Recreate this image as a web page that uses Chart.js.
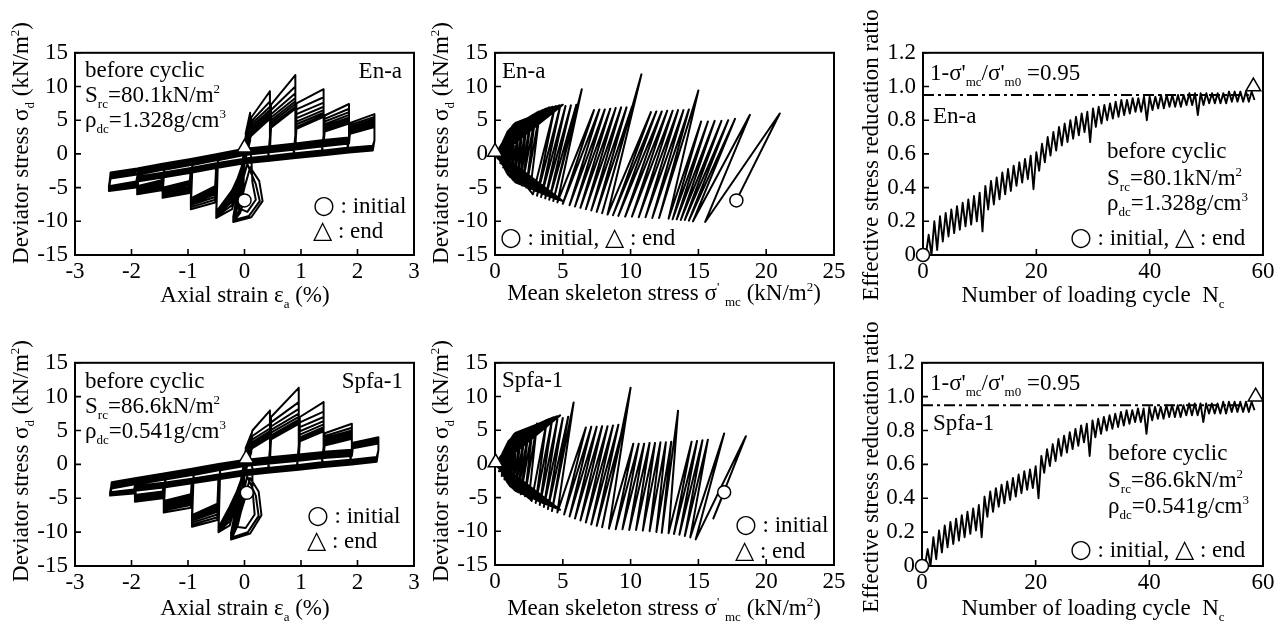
<!DOCTYPE html>
<html>
<head>
<meta charset="utf-8">
<script src="https://cdn.jsdelivr.net/npm/chart.js@4.4.1/dist/chart.umd.min.js"></script>
<style>
  body { margin: 0; width: 1279px; height: 626px; overflow: hidden; background: #fff; position: relative;
         font-family: "Liberation Serif", "Times New Roman", serif; color: #000; }
  canvas { position: absolute; }
  .t, .xt, .yt { position: absolute; font-size: 23px; line-height: 23px; white-space: nowrap; }
  .xt { transform: translateX(-50%); }
  .yt { transform: translate(-50%, -50%) rotate(-90deg); }
  sub { font-size: 13px; vertical-align: baseline; position: relative; top: 6px; }
  sup { font-size: 13px; vertical-align: baseline; position: relative; top: -9px; }
  .sym { font-family: "DejaVu Sans", sans-serif; font-size: 25px; line-height: 0; }
</style>
</head>
<body>

<canvas id="c1"></canvas><canvas id="c2"></canvas><canvas id="c3"></canvas>
<canvas id="c4"></canvas><canvas id="c5"></canvas><canvas id="c6"></canvas>

<!-- axis titles -->
<div class="yt" style="left:22px;top:143px">Deviator stress σ<sub>d</sub> (kN/m<sup>2</sup>)</div>
<div class="yt" style="left:442px;top:143px">Deviator stress σ<sub>d</sub> (kN/m<sup>2</sup>)</div>
<div class="yt" style="left:870px;top:155px">Effective stress reducation ratio</div>
<div class="yt" style="left:22px;top:461px">Deviator stress σ<sub>d</sub> (kN/m<sup>2</sup>)</div>
<div class="yt" style="left:442px;top:461px">Deviator stress σ<sub>d</sub> (kN/m<sup>2</sup>)</div>
<div class="yt" style="left:870px;top:467px">Effective stress reducation ratio</div>

<div class="xt" style="left:245px;top:283px">Axial strain ε<sub>a</sub> (%)</div>
<div class="xt" style="left:664px;top:281px">Mean skeleton stress σ<sup>'</sup> <sub>mc</sub> (kN/m<sup>2</sup>)</div>
<div class="xt" style="left:1093px;top:283px">Number of loading cycle &nbsp;N<sub>c</sub></div>
<div class="xt" style="left:245px;top:596px">Axial strain ε<sub>a</sub> (%)</div>
<div class="xt" style="left:664px;top:596px">Mean skeleton stress σ<sup>'</sup> <sub>mc</sub> (kN/m<sup>2</sup>)</div>
<div class="xt" style="left:1093px;top:596px">Number of loading cycle &nbsp;N<sub>c</sub></div>

<!-- panel 1 -->
<div class="t" style="left:85px;top:58px">before cyclic</div>
<div class="t" style="left:85px;top:83px">S<sub>rc</sub>=80.1kN/m<sup>2</sup></div>
<div class="t" style="left:85px;top:108px">ρ<sub>dc</sub>=1.328g/cm<sup>3</sup></div>
<div class="t" style="right:877px;top:59px">En-a</div>
<div class="t" style="left:313px;top:194px"><span class="sym">○</span> : initial</div>
<div class="t" style="left:313px;top:219px"><span class="sym">△</span> : end</div>

<!-- panel 2 -->
<div class="t" style="left:502px;top:59px">En-a</div>
<div class="t" style="left:500px;top:226px"><span class="sym">○</span> : initial, <span class="sym">△</span> : end</div>

<!-- panel 3 -->
<div class="t" style="left:930px;top:61px">1-σ'<sub>mc</sub>/σ'<sub>m0</sub> =0.95</div>
<div class="t" style="left:933px;top:104px">En-a</div>
<div class="t" style="left:1107px;top:139px">before cyclic</div>
<div class="t" style="left:1107px;top:166px">S<sub>rc</sub>=80.1kN/m<sup>2</sup></div>
<div class="t" style="left:1107px;top:191px">ρ<sub>dc</sub>=1.328g/cm<sup>3</sup></div>
<div class="t" style="left:1070px;top:226px"><span class="sym">○</span> : initial, <span class="sym">△</span> : end</div>

<!-- panel 4 -->
<div class="t" style="left:85px;top:369px">before cyclic</div>
<div class="t" style="left:85px;top:394px">S<sub>rc</sub>=86.6kN/m<sup>2</sup></div>
<div class="t" style="left:85px;top:419px">ρ<sub>dc</sub>=0.541g/cm<sup>3</sup></div>
<div class="t" style="right:876px;top:369px">Spfa-1</div>
<div class="t" style="left:307px;top:504px"><span class="sym">○</span> : initial</div>
<div class="t" style="left:307px;top:529px"><span class="sym">△</span> : end</div>

<!-- panel 5 -->
<div class="t" style="left:502px;top:368px">Spfa-1</div>
<div class="t" style="left:735px;top:513px"><span class="sym">○</span> : initial</div>
<div class="t" style="left:735px;top:539px"><span class="sym">△</span> : end</div>

<!-- panel 6 -->
<div class="t" style="left:930px;top:371px">1-σ'<sub>mc</sub>/σ'<sub>m0</sub> =0.95</div>
<div class="t" style="left:933px;top:411px">Spfa-1</div>
<div class="t" style="left:1108px;top:441px">before cyclic</div>
<div class="t" style="left:1108px;top:468px">S<sub>rc</sub>=86.6kN/m<sup>2</sup></div>
<div class="t" style="left:1108px;top:494px">ρ<sub>dc</sub>=0.541g/cm<sup>3</sup></div>
<div class="t" style="left:1070px;top:538px"><span class="sym">○</span> : initial, <span class="sym">△</span> : end</div>

<script>
// ==============================
// DATA — En-a, stress-strain (axial strain %, deviator stress kN/m2)
// six strain stages, eight cycles each
// ==============================
const enaCompStrain = [0.1, 0.45, 0.9, 1.4, 1.85, 2.3];
const enaExtStrain = [-0.2, -0.5, -0.95, -1.45, -1.9, -2.4];
const enaPeaks = [
  [6.1, 5.7, 5.4, 5.1, 4.9, 4.7, 4.5, 4.3],
  [9.3, 7.8, 7.0, 6.5, 6.1, 5.8, 5.5, 5.2],
  [11.7, 10.0, 9.0, 8.3, 7.8, 7.4, 7.0, 6.7],
  [9.6, 8.4, 7.6, 7.0, 6.5, 6.1, 5.8, 5.5],
  [7.4, 6.7, 6.2, 5.8, 5.4, 5.1, 4.8, 4.5],
  [5.9, 5.5, 5.2, 4.9, 4.6, 4.4, 4.2, 4.0]
];
const enaPeakStart = [
  [3.0, 2.6, 2.3, 2.0, 1.8, 1.6, 1.4, 1.2],
  [5.4, 4.8, 4.4, 4.0, 3.6, 3.3, 3.0, 2.7],
  [7.3, 6.5, 5.9, 5.4, 5.0, 4.6, 4.2, 3.9],
  [7.5, 6.6, 5.9, 5.3, 4.8, 4.4, 4.0, 3.7],
  [5.7, 5.2, 4.8, 4.4, 4.1, 3.8, 3.5, 3.3],
  [4.6, 4.3, 4.0, 3.8, 3.6, 3.4, 3.2, 3.0]
];
const enaTroughs = [
  [-10.1, -9.9, -9.8, -9.7, -9.6, -9.5, -9.5, -9.4],
  [-9.5, -9.3, -9.1, -9.0, -8.9, -8.8, -8.7, -8.6],
  [-8.2, -7.9, -7.6, -7.4, -7.2, -7.0, -6.8, -6.6],
  [-6.5, -6.2, -6.0, -5.8, -5.6, -5.4, -5.2, -5.0],
  [-6.0, -5.8, -5.6, -5.4, -5.2, -5.0, -4.9, -4.8],
  [-5.5, -5.4, -5.3, -5.2, -5.1, -5.0, -4.9, -4.8]
];
const enaTroughStart = [
  [-5.0, -4.5, -4.0, -3.6, -3.2, -2.9, -2.6, -2.3],
  [-8.2, -7.6, -7.1, -6.7, -6.3, -6.0, -5.7, -5.4],
  [-7.2, -6.8, -6.4, -6.0, -5.7, -5.4, -5.1, -4.8],
  [-5.8, -5.5, -5.2, -4.9, -4.6, -4.4, -4.2, -4.0],
  [-5.4, -5.1, -4.9, -4.7, -4.5, -4.3, -4.1, -3.9],
  [-5.0, -4.8, -4.6, -4.5, -4.4, -4.3, -4.2, -4.1]
];
const enaDropLevel = [2.0, 2.5, 2.8, 2.7, 2.6, 2.0];
// near-zero stress branches: loading (upper) and unloading (lower) band
const enaBandStrain = [-2.4, -1.9, -1.45, -0.95, -0.5, 0, 0.45, 0.9, 1.4, 1.85, 2.3];
const enaLoadBand = [-3.3, -2.7, -2.0, -1.3, -0.6, 0.2, 0.6, 1.0, 1.5, 1.9, 2.3];
const enaUnloadBand = [-4.0, -3.5, -2.9, -2.2, -1.5, -0.8, -0.4, 0.0, 0.4, 0.8, 1.1];
// first small cycles around the initial state
const enaStartLoop = [
  [0.0,-6.9],[-0.08,-8.8],[-0.2,-10.1],[0.12,-9.4],[0.32,-7.0],[0.26,-4.0],[0.1,-2.0],[0.0,-5.0],
  [-0.1,-8.5],[-0.18,-9.8],[0.08,-9.2],[0.27,-7.0],[0.2,-4.5],[0.05,-1.5],[-0.05,-4.5],[-0.12,-8.0],
  [0.05,-8.6],[0.2,-6.8],[0.14,-4.2],[0.12,-0.5]
];
const enaEndLoop = [[-2.37,-3.3],[-1.45,-1.9],[-0.5,-0.5],[0.0,0.9]];
const enaStartSS = [0.0, -6.9];
const enaEndSS = [0.0, 0.9];

// cycle-to-cycle spread of the band branches
const loadOffset = [0, 0.35, -0.2, 0.55, 0.15, -0.35, 0.45, 0.25];
const unloadOffset = [0, -0.3, -0.55, -0.15, -0.4, 0.1, -0.25, -0.6];

// En-a, effective stress path (p'mc, q)
const enaStartPQ = [17.8, -6.9];
const enaEndPQ = [0.0, 0.3];
const enaPath = [
  [17.8,-6.9],[21.0,6.0],[15.5,-10.1],[18.8,5.8],[14.6,-10.0],[17.7,5.2],[14.3,-9.9],[17.2,5.0],[14.0,-9.8],
  [16.7,4.9],[13.7,-9.8],[16.2,4.9],[13.4,-9.7],[15.7,4.8],[13.1,-9.7],[15.2,4.8],[12.8,-9.6],
  [15.0,9.4],[12.1,-9.5],[14.3,6.6],[11.6,-9.5],[13.9,6.5],[11.1,-9.4],[13.5,6.5],[10.6,-9.4],
  [13.1,6.4],[10.1,-9.3],[12.7,6.4],[9.6,-9.3],[12.3,6.3],[9.1,-9.2],[11.9,6.3],[8.7,-9.1],[11.5,6.2],[8.3,-9.0],
  [10.8,11.8],[7.9,-8.8],[10.1,7.0],[7.5,-8.6],[9.7,6.9],[7.1,-8.4],[9.3,6.9],[6.7,-8.2],
  [8.9,6.8],[6.3,-8.0],[8.5,6.7],[5.9,-7.8],[8.1,6.6],[5.5,-7.6],[7.7,6.6],[5.0,-7.4],[7.3,6.5],[4.6,-7.2],
  [6.4,9.6],[4.3,-7.0],[6.0,7.3],[4.0,-6.8],[5.6,7.2],[3.7,-6.6],[5.2,7.1],[3.4,-6.4],[4.8,7.0],[3.1,-6.2],[4.4,6.9],[2.8,-6.0],
  [0.4,0.1],[1.5,4.6],[5.0,7.3],[0.4,-0.1],[1.5,-4.2],[5.0,-7.0],[0.35,0.1],[1.4,4.4],[4.5,7.1],[0.35,-0.1],[1.4,-4.0],[4.5,-6.7],
  [0.3,0.1],[1.3,4.2],[4.0,6.9],[0.3,-0.1],[1.3,-3.8],[4.0,-6.3],[0.3,0.1],[1.2,3.9],[3.5,6.5],[0.3,-0.1],[1.2,-3.5],[3.5,-5.9],
  [0.25,0.1],[1.0,3.5],[3.0,6.0],[0.25,-0.1],[1.0,-3.2],[3.0,-5.5],[0.2,0.1],[0.9,3.2],[2.6,5.5],[0.2,-0.1],[0.9,-2.9],[2.6,-5.0],
  [0.2,0.1],[2.2,5.0],[0.15,-0.1],[2.2,-4.6],[0.15,0.1],[1.8,4.4],[0.1,-0.1],[1.8,-4.1],[0.1,0.1],[1.5,3.8],[0.1,-0.1],[1.5,-3.6],
  [0.1,0.1],[1.2,3.2],[0.05,-0.1],[1.2,-3.1],[0.05,0.1],[0.9,2.6],[0.05,0.0],[0.9,-2.5],[0.05,0.0],[0.6,1.8],
  [0.38,0.0],[1.45,4.5],[4.75,7.2],[0.38,0.0],[1.45,-4.1],[4.75,-6.85],[0.33,0.0],[1.35,4.3],[4.25,7.0],[0.33,0.0],[1.35,-3.9],[4.25,-6.5],
  [0.3,0.0],[1.25,4.0],[3.75,6.7],[0.3,0.0],[1.25,-3.6],[3.75,-6.1],[0.27,0.0],[1.1,3.7],[3.25,6.3],[0.27,0.0],[1.1,-3.4],[3.25,-5.7],
  [0.22,0.0],[0.95,3.4],[2.8,5.8],[0.22,0.0],[0.95,-3.0],[2.8,-5.25],[0.2,0.0],[2.4,5.3],[0.18,0.0],[2.4,-4.8],
  [0.15,0.0],[2.0,4.7],[0.12,0.0],[2.0,-4.35],[0.1,0.0],[1.65,4.1],[0.1,0.0],[1.65,-3.85],
  [0.08,0.0],[1.35,3.5],[0.08,0.0],[1.35,-3.35],[0.05,0.0],[1.05,2.9],[0.05,0.0],[1.05,-2.8],
  [0.03,0.0],[0.75,2.2],[0.03,0.0],[0.75,-2.2],
  [2.6,-5.3],[3.3,6.2],[2.3,-5.0],[3.0,5.9],[2.0,-4.7],[2.7,5.6],[1.8,-4.4],[2.4,5.2],[1.6,-4.1],[2.1,4.8],
  [1.4,-3.7],[1.8,4.3],[1.2,-3.3],[1.5,3.8],[1.0,-2.9],[1.25,3.3],[0.8,-2.5],[1.0,2.8],[0.6,-2.0],[0.75,2.2],
  [0.4,-1.4],[0.5,1.5],[0.2,-0.7],[0.0,0.3]
];

// En-a, reduction ratio per loading cycle 0..58 (upper value and dip of each cycle)
const enaRatioHigh = [
  0.02,0.12,0.2,0.23,0.25,0.27,0.29,0.31,0.33,0.35,0.37,
  0.41,0.44,0.46,0.49,0.51,0.53,0.55,0.57,0.59,0.61,
  0.66,0.7,0.73,0.76,0.78,0.8,0.82,0.84,0.85,0.87,
  0.88,0.89,0.9,0.91,0.92,0.92,0.93,0.93,0.94,0.94,
  0.94,0.95,0.95,0.95,0.95,0.95,0.96,0.96,0.96,0.96,
  0.96,0.96,0.96,0.97,0.97,0.97,0.97,0.97
];
const enaRatioLow = [
  0.0,0.0,0.03,0.08,0.11,0.13,0.15,0.17,0.18,0.2,0.14,
  0.27,0.3,0.33,0.36,0.38,0.41,0.43,0.45,0.39,0.5,
  0.55,0.59,0.62,0.65,0.67,0.69,0.71,0.73,0.67,0.76,
  0.78,0.8,0.81,0.82,0.83,0.84,0.85,0.85,0.8,0.86,
  0.87,0.87,0.88,0.88,0.88,0.89,0.89,0.83,0.89,0.9,
  0.9,0.9,0.9,0.91,0.91,0.91,0.91,0.92
];
const enaStartRatio = [0, 0];
const enaEndRatio = [58.3, 1.0];

// ==============================
// DATA — Spfa-1
// ==============================
const spfaCompStrain = [0.12, 0.45, 0.96, 1.4, 1.9, 2.37];
const spfaExtStrain = [-0.24, -0.46, -0.93, -1.43, -1.94, -2.38];
const spfaPeaks = [
  [4.5, 4.3, 4.1, 3.9, 3.7, 3.6, 3.5, 3.4],
  [7.95, 6.0, 5.3, 4.9, 4.6, 4.4, 4.2, 4.0],
  [11.3, 9.2, 8.2, 7.5, 7.0, 6.6, 6.3, 6.0],
  [9.2, 7.8, 7.0, 6.4, 5.9, 5.5, 5.2, 4.9],
  [6.0, 5.4, 5.0, 4.7, 4.4, 4.2, 4.0, 3.8],
  [4.0, 3.8, 3.6, 3.5, 3.4, 3.3, 3.2, 3.1]
];
const spfaPeakStart = [
  [2.4, 2.1, 1.9, 1.7, 1.5, 1.3, 1.2, 1.1],
  [5.0, 4.2, 3.7, 3.3, 3.0, 2.8, 2.6, 2.4],
  [7.0, 6.2, 5.6, 5.1, 4.7, 4.3, 4.0, 3.7],
  [7.0, 6.2, 5.5, 4.9, 4.4, 4.0, 3.7, 3.4],
  [4.6, 4.2, 3.9, 3.6, 3.4, 3.2, 3.0, 2.8],
  [3.2, 3.0, 2.9, 2.8, 2.7, 2.6, 2.5, 2.4]
];
const spfaTroughs = [
  [-11.1, -10.9, -10.7, -10.6, -10.5, -10.4, -10.3, -10.2],
  [-10.0, -9.9, -9.8, -9.7, -9.6, -9.5, -9.4, -9.3],
  [-9.2, -8.9, -8.6, -8.3, -8.1, -7.9, -7.7, -7.5],
  [-7.1, -6.8, -6.5, -6.2, -6.0, -5.8, -5.6, -5.4],
  [-5.5, -5.3, -5.1, -4.9, -4.8, -4.7, -4.6, -4.5],
  [-4.6, -4.5, -4.4, -4.35, -4.3, -4.25, -4.2, -4.1]
];
const spfaTroughStart = [
  [-5.5, -5.0, -4.6, -4.2, -3.8, -3.5, -3.2, -2.9],
  [-9.0, -8.4, -7.9, -7.5, -7.1, -6.8, -6.5, -6.2],
  [-8.2, -7.8, -7.4, -7.0, -6.7, -6.4, -6.1, -5.8],
  [-6.4, -6.0, -5.7, -5.4, -5.1, -4.8, -4.6, -4.4],
  [-5.0, -4.8, -4.6, -4.4, -4.3, -4.2, -4.1, -4.0],
  [-4.3, -4.2, -4.1, -4.0, -3.9, -3.85, -3.8, -3.7]
];
const spfaDropLevel = [1.8, 2.3, 2.8, 2.6, 2.4, 2.1];
const spfaBandStrain = [-2.38, -1.94, -1.43, -0.93, -0.46, 0, 0.45, 0.96, 1.4, 1.9, 2.37];
const spfaLoadBand = [-3.2, -2.6, -1.9, -1.2, -0.5, 0.1, 0.5, 0.9, 1.3, 1.6, 1.9];
const spfaUnloadBand = [-3.8, -3.3, -2.8, -2.2, -1.6, -1.0, -0.6, -0.2, 0.2, 0.6, 1.0];
const spfaStartLoop = [
  [0.04,-4.2],[-0.1,-8.0],[-0.24,-11.1],[0.1,-10.2],[0.3,-7.5],[0.25,-4.0],[0.1,-2.0],[-0.02,-5.5],
  [-0.12,-9.0],[-0.22,-10.8],[0.06,-10.0],[0.25,-7.6],[0.2,-4.6],[0.05,-1.8],[-0.06,-5.5],[-0.15,-9.2],
  [0.02,-9.4],[0.18,-7.4],[0.15,-4.5],[0.14,-0.5]
];
const spfaEndLoop = [[-2.35,-3.2],[-1.43,-1.8],[-0.46,-0.5],[0.03,0.85]];
const spfaStartSS = [0.04, -4.2];
const spfaEndSS = [0.03, 0.85];

const spfaStartPQ = [16.9, -4.2];
const spfaEndPQ = [0.05, 0.2];
const spfaPath = [
  [16.9,-4.2],[16.1,-8.1],[18.5,4.1],[14.8,-11.2],[16.9,4.5],[14.4,-10.9],[15.7,3.6],[14.0,-10.7],
  [15.3,3.5],[13.6,-10.5],[14.9,3.4],[13.2,-10.4],[14.5,3.3],[12.8,-10.3],
  [13.5,7.9],[12.3,-10.2],[13.0,3.3],[11.9,-10.1],[12.6,3.2],[11.4,-10.0],[12.2,3.2],[10.9,-9.9],
  [11.8,3.1],[10.4,-9.8],[11.4,3.1],[9.9,-9.8],[11.0,3.0],[9.4,-9.7],[10.6,3.0],[8.9,-9.7],[10.2,3.0],[8.4,-9.6],
  [10.0,11.3],[7.9,-9.4],[9.5,5.9],[7.5,-9.2],[9.1,5.8],[7.1,-9.0],[8.7,5.7],[6.7,-8.7],
  [8.3,5.6],[6.3,-8.4],[7.9,5.6],[5.9,-8.1],[7.5,5.5],[5.5,-7.8],[7.1,5.5],[5.1,-7.5],[6.7,5.4],[4.6,-7.2],
  [5.8,9.1],[4.2,-7.0],[5.4,7.0],[3.9,-6.7],[5.0,6.8],[3.6,-6.4],[4.6,6.6],[3.3,-6.1],[4.2,6.4],[3.0,-5.8],[3.8,6.2],[2.7,-5.5],
  [0.4,0.1],[1.5,4.6],[4.8,7.2],[0.4,-0.1],[1.5,-4.0],[4.8,-6.8],[0.35,0.1],[1.4,4.4],[4.3,6.9],[0.35,-0.1],[1.4,-3.8],[4.3,-6.4],
  [0.3,0.1],[1.3,4.1],[3.8,6.5],[0.3,-0.1],[1.3,-3.6],[3.8,-6.0],[0.3,0.1],[1.2,3.8],[3.3,6.0],[0.3,-0.1],[1.1,-3.3],[3.3,-5.6],
  [0.25,0.1],[1.0,3.4],[2.8,5.5],[0.25,-0.1],[1.0,-3.0],[2.8,-5.1],[0.2,0.1],[0.9,3.0],[2.4,5.0],[0.2,-0.1],[0.9,-2.7],[2.4,-4.6],
  [0.15,0.1],[2.0,4.4],[0.15,-0.1],[2.0,-4.1],[0.1,0.1],[1.6,3.8],[0.1,-0.1],[1.6,-3.5],[0.1,0.1],[1.2,3.0],[0.05,-0.1],[1.2,-2.8],
  [0.05,0.1],[0.8,2.2],[0.05,0.0],[0.8,-2.0],
  [0.38,0.0],[1.45,4.5],[4.55,7.05],[0.38,0.0],[1.45,-3.9],[4.55,-6.6],[0.33,0.0],[1.35,4.25],[4.05,6.7],[0.33,0.0],[1.35,-3.7],[4.05,-6.2],
  [0.3,0.0],[1.25,3.95],[3.55,6.25],[0.3,0.0],[1.2,-3.45],[3.55,-5.8],[0.27,0.0],[1.1,3.6],[3.05,5.75],[0.27,0.0],[1.05,-3.15],[3.05,-5.35],
  [0.22,0.0],[0.95,3.2],[2.6,5.25],[0.22,0.0],[0.95,-2.85],[2.6,-4.85],[0.18,0.0],[2.2,4.7],[0.18,0.0],[2.2,-4.35],
  [0.12,0.0],[1.8,4.1],[0.12,0.0],[1.8,-3.8],[0.1,0.0],[1.4,3.4],[0.08,0.0],[1.4,-3.15],
  [0.05,0.0],[1.0,2.6],[0.05,0.0],[1.0,-2.4],
  [2.5,-5.1],[3.1,6.0],[2.2,-4.8],[2.8,5.6],[1.9,-4.5],[2.5,5.2],[1.7,-4.2],[2.2,4.8],[1.5,-3.9],[1.9,4.3],
  [1.3,-3.5],[1.6,3.8],[1.1,-3.1],[1.35,3.3],[0.9,-2.7],[1.1,2.8],[0.7,-2.3],[0.85,2.2],[0.5,-1.8],[0.6,1.6],
  [0.3,-1.1],[0.35,0.9],[0.05,0.2]
];

const spfaRatioHigh = [
  0.02,0.1,0.17,0.21,0.24,0.26,0.28,0.3,0.32,0.34,0.36,
  0.41,0.44,0.46,0.48,0.5,0.52,0.54,0.56,0.57,0.59,
  0.65,0.69,0.72,0.75,0.77,0.79,0.81,0.83,0.84,0.86,
  0.87,0.88,0.89,0.9,0.91,0.92,0.92,0.93,0.93,0.94,
  0.94,0.94,0.95,0.95,0.95,0.95,0.96,0.96,0.96,0.96,
  0.96,0.96,0.97,0.97,0.97,0.97,0.97,0.97
];
const spfaRatioLow = [
  0.0,0.0,0.04,0.08,0.11,0.13,0.15,0.17,0.19,0.21,0.17,
  0.29,0.32,0.35,0.37,0.39,0.41,0.43,0.45,0.46,0.4,
  0.55,0.59,0.62,0.65,0.67,0.69,0.71,0.73,0.65,0.76,
  0.78,0.8,0.81,0.82,0.83,0.84,0.85,0.85,0.78,0.86,
  0.87,0.87,0.88,0.88,0.88,0.89,0.89,0.89,0.85,0.9,
  0.9,0.9,0.9,0.91,0.91,0.91,0.91,0.92
];
const spfaStartRatio = [0, 0];
const spfaEndRatio = [58.7, 1.0];

// threshold line 1 - σ'mc/σ'm0 = 0.95
const thresholdLevel = 0.95;
const thresholdSpan = [0, 57.5];

// ==============================
// LAYOUT (plot frame in page pixels: left, top, right, bottom)
// ==============================
const boxes = {
  c1: [75, 52, 414, 255], c2: [495, 52, 834, 255], c3: [923, 52, 1263, 255],
  c4: [75, 362, 414, 566], c5: [495, 362, 834, 565], c6: [922, 362, 1263, 566]
};
const FONT = { family: "'Liberation Serif', 'Times New Roman', serif", size: 23 };

const toXY = (arr) => arr.map(([x, y]) => ({ x, y }));

// upper value at cycle n, dip half a cycle later
function zigzag(high, low) {
  const pts = [];
  high.forEach((h, n) => {
    pts.push({ x: n, y: h });
    pts.push({ x: n + 0.5, y: low[n] });
  });
  return pts;
}

// chain the read cycle values into one continuous strain-stress path
function buildLoops(s) {
  const pts = s.start.map((p) => p.slice());
  s.comp.forEach((xp, k) => {
    const xpPrev = k ? s.comp[k - 1] : 0;
    const xnPrev = k ? s.ext[k - 1] : 0;
    const xn = s.ext[k];
    s.peaks[k].forEach((yp, c) => {
      const xFrom = pts[pts.length - 1][0];
      // loading: along the upper band, up the previous edge, to the new peak
      s.bandX.forEach((bx, i) => {
        if (bx >= xFrom && bx <= xpPrev) pts.push([bx === xFrom ? bx + 0.03 : bx, s.load[i] + loadOffset[c]]);
      });
      pts.push([xpPrev + 0.02, s.peakStart[k][c]]);
      pts.push([xp, yp]);
      pts.push([xp, s.drop[k]]);
      // unloading: back along the lower band, down the previous edge, to the trough
      for (let i = s.bandX.length - 1; i >= 0; i--) {
        const bx = s.bandX[i];
        if (bx <= xp && bx >= xnPrev) pts.push([bx === xp ? bx - 0.03 : bx, s.unload[i] + unloadOffset[c]]);
      }
      pts.push([xnPrev - 0.02, s.troughStart[k][c]]);
      pts.push([xn, s.troughs[k][c]]);
    });
  });
  return pts.concat(s.end);
}

// frame + inward ticks
const framePlugin = {
  id: "frame",
  beforeDatasetsDraw(chart) {
    const { ctx, chartArea: a, scales } = chart;
    ctx.save();
    ctx.strokeStyle = "#000";
    ctx.lineWidth = 2;
    ctx.strokeRect(a.left, a.top, a.right - a.left, a.bottom - a.top);
    ctx.lineWidth = 1.6;
    ctx.beginPath();
    scales.x.ticks.forEach((t) => {
      const px = scales.x.getPixelForValue(t.value);
      ctx.moveTo(px, a.bottom);
      ctx.lineTo(px, a.bottom - 6);
    });
    scales.y.ticks.forEach((t) => {
      const py = scales.y.getPixelForValue(t.value);
      ctx.moveTo(a.left, py);
      ctx.lineTo(a.left + 6, py);
    });
    ctx.stroke();
    ctx.restore();
  },
};

function lineSet(points, width) {
  return {
    data: points, showLine: true, borderColor: "#000", borderWidth: width,
    pointRadius: 0, tension: 0, order: 2, borderJoinStyle: "round",
  };
}

function markSet(pt, style, radius) {
  return {
    data: [{ x: pt[0], y: pt[1] }], showLine: false, pointStyle: style,
    pointRadius: radius, pointBackgroundColor: "#fff", pointBorderColor: "#000",
    pointBorderWidth: 1.5, clip: false, order: 0,
  };
}

function makePanel(id, xr, yr, datasets) {
  const [l, t, r, b] = boxes[id];
  const cv = document.getElementById(id);
  cv.width = r - l + 95;
  cv.height = b - t + 50;
  cv.style.left = (l - 70) + "px";
  cv.style.top = (t - 20) + "px";

  const axis = (range, fit) => ({
    type: "linear", min: range[0], max: range[1],
    ticks: { stepSize: range[2], color: "#000", font: FONT, padding: fit === "y" ? 7 : 3,
             maxRotation: 0, autoSkip: false },
    grid: { display: false, drawTicks: false },
    border: { display: false },
    afterFit(s) { if (fit === "y") s.width = 70; else s.height = 30; },
  });

  return new Chart(cv, {
    type: "scatter",
    data: { datasets },
    options: {
      responsive: false, animation: false, events: [],
      layout: { padding: { left: 0, top: 20, right: 25, bottom: 0 } },
      plugins: { legend: { display: false }, tooltip: { enabled: false } },
      scales: { x: axis(xr, "x"), y: axis(yr, "y") },
    },
    plugins: [framePlugin],
  });
}

// ==============================
// BUILD PANELS
// ==============================
const enaLoop = buildLoops({
  start: enaStartLoop, end: enaEndLoop, comp: enaCompStrain, ext: enaExtStrain,
  peaks: enaPeaks, peakStart: enaPeakStart, troughs: enaTroughs, troughStart: enaTroughStart,
  drop: enaDropLevel, bandX: enaBandStrain, load: enaLoadBand, unload: enaUnloadBand,
});
const spfaLoop = buildLoops({
  start: spfaStartLoop, end: spfaEndLoop, comp: spfaCompStrain, ext: spfaExtStrain,
  peaks: spfaPeaks, peakStart: spfaPeakStart, troughs: spfaTroughs, troughStart: spfaTroughStart,
  drop: spfaDropLevel, bandX: spfaBandStrain, load: spfaLoadBand, unload: spfaUnloadBand,
});
const thresholdLine = thresholdSpan.map((x) => ({ x, y: thresholdLevel }));

const dashDot = (pts) => ({ ...lineSet(pts, 2), borderDash: [11, 4, 3, 4], order: 1 });

makePanel("c1", [-3, 3, 1], [-15, 15, 5], [
  lineSet(toXY(enaLoop), 2), markSet(enaStartSS, "circle", 6.5), markSet(enaEndSS, "triangle", 8.5),
]);
makePanel("c2", [0, 25, 5], [-15, 15, 5], [
  lineSet(toXY(enaPath), 2), markSet(enaStartPQ, "circle", 6.5), markSet(enaEndPQ, "triangle", 8.5),
]);
makePanel("c3", [0, 60, 20], [0, 1.2, 0.2], [
  lineSet(zigzag(enaRatioHigh, enaRatioLow), 1.9), dashDot(thresholdLine),
  markSet(enaStartRatio, "circle", 6.5), markSet(enaEndRatio, "triangle", 8.5),
]);
makePanel("c4", [-3, 3, 1], [-15, 15, 5], [
  lineSet(toXY(spfaLoop), 2), markSet(spfaStartSS, "circle", 6.5), markSet(spfaEndSS, "triangle", 8.5),
]);
makePanel("c5", [0, 25, 5], [-15, 15, 5], [
  lineSet(toXY(spfaPath), 2), markSet(spfaStartPQ, "circle", 6.5), markSet(spfaEndPQ, "triangle", 8.5),
]);
makePanel("c6", [0, 60, 20], [0, 1.2, 0.2], [
  lineSet(zigzag(spfaRatioHigh, spfaRatioLow), 1.9), dashDot(thresholdLine),
  markSet(spfaStartRatio, "circle", 6.5), markSet(spfaEndRatio, "triangle", 8.5),
]);
</script>
</body>
</html>
